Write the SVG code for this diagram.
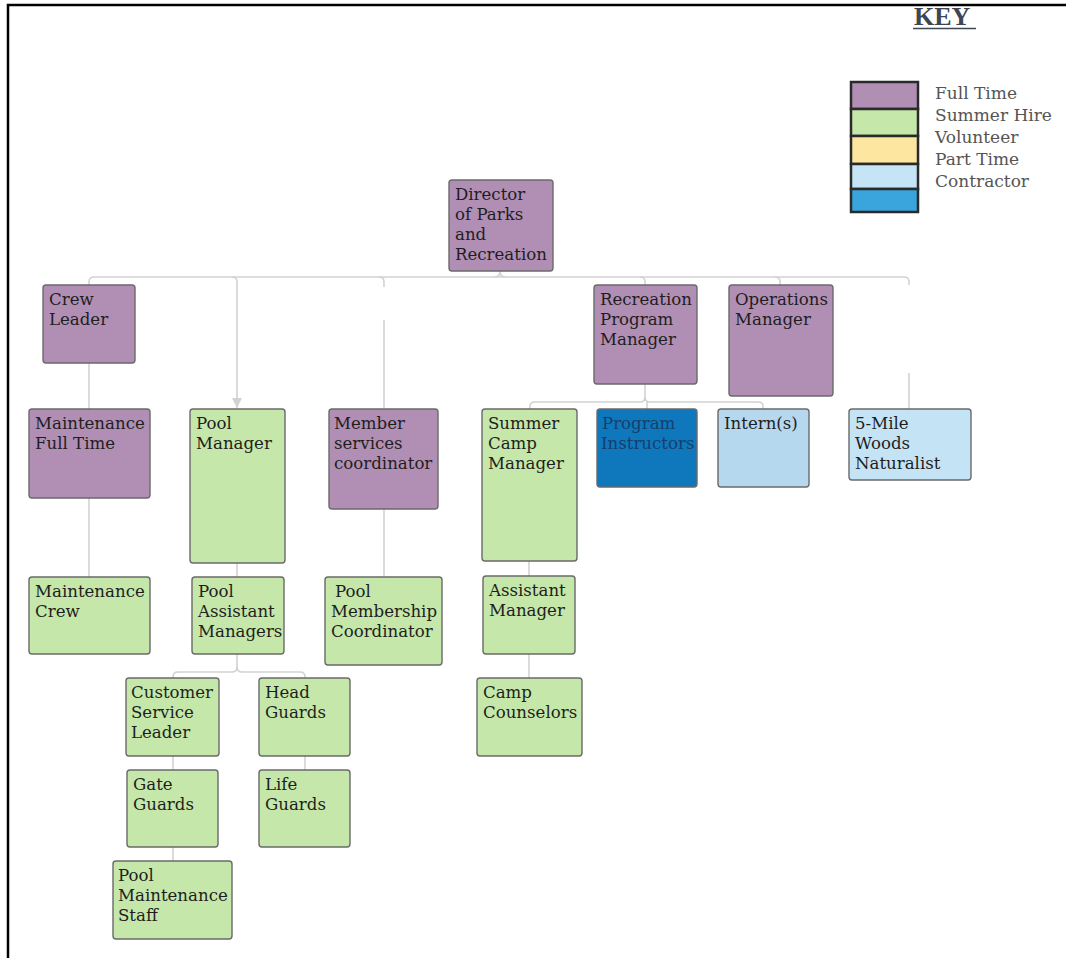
<svg xmlns="http://www.w3.org/2000/svg" width="1066" height="958" viewBox="0 0 1066 958">
<defs>
<style>
.n rect{stroke:#6a6a6a;stroke-width:1.4}
.ft rect{fill:#b18fb5}
.sh rect{fill:#c5e7a9}
.ct rect{fill:#0f78bd}
.pt rect{fill:#b6d8ef}
.pt2 rect{fill:#c4e4f5}
.n text{font-family:"DejaVu Serif","Liberation Serif",serif;font-size:16.6px;fill:#1e1e1e}
.ct text{fill:#153f6c}
.c path{fill:none;stroke:#d2d2d2;stroke-width:1.6}
.k text{font-family:"DejaVu Serif","Liberation Serif",serif;font-size:17px;fill:#555}
</style>
<marker id="arr" viewBox="0 0 10 10" refX="10" refY="5" markerWidth="10" markerHeight="10" markerUnits="userSpaceOnUse" orient="auto">
<path d="M0,0 L10,5 L0,10 Z" fill="#d2d2d2"/>
</marker>
</defs>
<rect x="0" y="0" width="1066" height="958" fill="#fff"/>
<path d="M8,958 V5 H1066" fill="none" stroke="#000" stroke-width="2.5"/>

<g id="key" class="k">
<text x="914" y="25" style="font-family:'Liberation Serif','DejaVu Serif',serif;font-size:26px;font-weight:bold;fill:#3d4652">KEY</text>
<line x1="913" y1="28.5" x2="976" y2="28.5" stroke="#3d4652" stroke-width="1.5"/>
<rect x="851" y="82" width="67" height="27" fill="#b18fb5" stroke="#2a2a2a" stroke-width="2.5"/>
<rect x="851" y="109" width="67" height="27" fill="#c5e7a9" stroke="#2a2a2a" stroke-width="2.5"/>
<rect x="851" y="136" width="67" height="28" fill="#fde6a0" stroke="#2a2a2a" stroke-width="2.5"/>
<rect x="851" y="164" width="67" height="25" fill="#c5e5f7" stroke="#2a2a2a" stroke-width="2.5"/>
<rect x="851" y="189" width="67" height="23" fill="#3aa4dc" stroke="#2a2a2a" stroke-width="2.5"/>
<text x="935" y="99">Full Time</text>
<text x="935" y="121">Summer Hire</text>
<text x="935" y="143">Volunteer</text>
<text x="935" y="165">Part Time</text>
<text x="935" y="187">Contractor</text>
</g>

<g id="connectors" class="c">
<path d="M89,285 V282 Q89,277 94,277 H904 Q909,277 909,282 V285"/>
<path d="M495,277 Q500,277 500,271 Q500,277 505,277"/>
<path d="M232,277 Q237,277 237,282 V408" marker-end="url(#arr)"/>
<path d="M379,277 Q384,277 384,282 V287"/>
<path d="M384,320 V409"/>
<path d="M640,277 Q645,277 645,282 V285"/>
<path d="M775,277 Q780,277 780,282 V285"/>
<path d="M909,373 V409"/>
<path d="M89,363 V409"/>
<path d="M89,498 V577"/>
<path d="M237,563 V577"/>
<path d="M384,509 V577"/>
<path d="M237,654 V667 Q237,672 232,672 H178 Q173,672 173,677 V678"/>
<path d="M237,667 Q237,672 242,672 H300 Q305,672 305,677 V678"/>
<path d="M173,756 V770"/>
<path d="M173,847 V861"/>
<path d="M305,756 V770"/>
<path d="M645,384 V397 Q645,402 640,402 H535 Q530,402 530,406 V409"/>
<path d="M645,397 Q645,402 650,402 H758 Q763,402 763,406 V409"/>
<path d="M647,402 V409"/>
<path d="M529,561 V576"/>
<path d="M529,654 V678"/>
</g>

<g id="director" class="n ft"><rect x="449" y="180" width="104" height="91" rx="3"/>
<text><tspan x="455" y="200">Director</tspan><tspan x="455" y="220">of Parks</tspan><tspan x="455" y="240">and</tspan><tspan x="455" y="260">Recreation</tspan></text></g>

<g id="crew-leader" class="n ft"><rect x="43" y="285" width="92" height="78" rx="3"/>
<text><tspan x="49" y="305">Crew</tspan><tspan x="49" y="325">Leader</tspan></text></g>

<g id="rec-program-manager" class="n ft"><rect x="594" y="285" width="103" height="99" rx="3"/>
<text><tspan x="600" y="305">Recreation</tspan><tspan x="600" y="325">Program</tspan><tspan x="600" y="345">Manager</tspan></text></g>

<g id="operations-manager" class="n ft"><rect x="729" y="285" width="104" height="111" rx="3"/>
<text><tspan x="735" y="305">Operations</tspan><tspan x="735" y="325">Manager</tspan></text></g>

<g id="maintenance-full-time" class="n ft"><rect x="29" y="409" width="121" height="89" rx="3"/>
<text><tspan x="35" y="429">Maintenance</tspan><tspan x="35" y="449">Full Time</tspan></text></g>

<g id="pool-manager" class="n sh"><rect x="190" y="409" width="95" height="154" rx="3"/>
<text><tspan x="196" y="429">Pool</tspan><tspan x="196" y="449">Manager</tspan></text></g>

<g id="member-services" class="n ft"><rect x="329" y="409" width="109" height="100" rx="3"/>
<text><tspan x="334" y="429">Member</tspan><tspan x="334" y="449">services</tspan><tspan x="334" y="469">coordinator</tspan></text></g>

<g id="summer-camp-manager" class="n sh"><rect x="482" y="409" width="95" height="152" rx="3"/>
<text><tspan x="488" y="429">Summer</tspan><tspan x="488" y="449">Camp</tspan><tspan x="488" y="469">Manager</tspan></text></g>

<g id="program-instructors" class="n ct"><rect x="597" y="409" width="100" height="78" rx="3"/>
<text><tspan x="602" y="429">Program</tspan><tspan x="601" y="449">Instructors</tspan></text></g>

<g id="interns" class="n pt"><rect x="718" y="409" width="91" height="78" rx="3"/>
<text><tspan x="724" y="429">Intern(s)</tspan></text></g>

<g id="five-mile-woods-naturalist" class="n pt2"><rect x="849" y="409" width="122" height="71" rx="3"/>
<text><tspan x="855" y="429">5-Mile</tspan><tspan x="855" y="449">Woods</tspan><tspan x="855" y="469">Naturalist</tspan></text></g>

<g id="maintenance-crew" class="n sh"><rect x="29" y="577" width="121" height="77" rx="3"/>
<text><tspan x="35" y="597">Maintenance</tspan><tspan x="35" y="617">Crew</tspan></text></g>

<g id="pool-assistant-managers" class="n sh"><rect x="192" y="577" width="92" height="77" rx="3"/>
<text><tspan x="198" y="597">Pool</tspan><tspan x="198" y="617">Assistant</tspan><tspan x="198" y="637">Managers</tspan></text></g>

<g id="pool-membership-coordinator" class="n sh"><rect x="325" y="577" width="117" height="88" rx="3"/>
<text><tspan x="335" y="597">Pool</tspan><tspan x="331" y="617">Membership</tspan><tspan x="331" y="637">Coordinator</tspan></text></g>

<g id="assistant-manager" class="n sh"><rect x="483" y="576" width="92" height="78" rx="3"/>
<text><tspan x="489" y="596">Assistant</tspan><tspan x="489" y="616">Manager</tspan></text></g>

<g id="customer-service-leader" class="n sh"><rect x="126" y="678" width="93" height="78" rx="3"/>
<text><tspan x="131" y="698">Customer</tspan><tspan x="131" y="718">Service</tspan><tspan x="131" y="738">Leader</tspan></text></g>

<g id="head-guards" class="n sh"><rect x="259" y="678" width="91" height="78" rx="3"/>
<text><tspan x="265" y="698">Head</tspan><tspan x="265" y="718">Guards</tspan></text></g>

<g id="camp-counselors" class="n sh"><rect x="477" y="678" width="105" height="78" rx="3"/>
<text><tspan x="483" y="698">Camp</tspan><tspan x="483" y="718">Counselors</tspan></text></g>

<g id="gate-guards" class="n sh"><rect x="127" y="770" width="91" height="77" rx="3"/>
<text><tspan x="133" y="790">Gate</tspan><tspan x="133" y="810">Guards</tspan></text></g>

<g id="life-guards" class="n sh"><rect x="259" y="770" width="91" height="77" rx="3"/>
<text><tspan x="265" y="790">Life</tspan><tspan x="265" y="810">Guards</tspan></text></g>

<g id="pool-maintenance-staff" class="n sh"><rect x="113" y="861" width="119" height="78" rx="3"/>
<text><tspan x="118" y="881">Pool</tspan><tspan x="118" y="901">Maintenance</tspan><tspan x="118" y="921">Staff</tspan></text></g>
</svg>
